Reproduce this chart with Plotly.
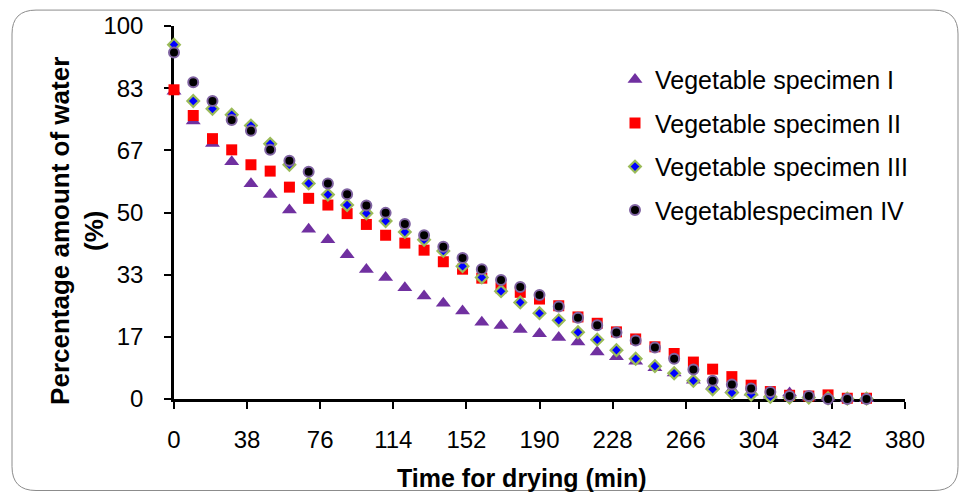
import plotly.graph_objects as go

time_min = list(range(0, 361, 10))

specimen_1 = [82.5, 74.5, 68.5, 63.6, 57.7, 54.8, 50.7, 45.5, 42.7, 38.7, 34.7, 32.6, 29.8,
              27.6, 25.7, 23.6, 20.6, 19.7, 18.6, 17.5, 16.5, 15.3, 12.6, 11.3, 10.1, 8.4,
              7.0, 5.0, 3.5, 2.5, 1.8, 1.0, 1.6, 0.5, 0.5, 0.1, 0.1]
specimen_2 = [82.9, 76.0, 69.8, 66.8, 62.8, 61.1, 56.8, 53.8, 52.0, 49.7, 46.8, 43.9, 41.8,
              39.9, 36.8, 34.8, 32.4, 29.8, 28.6, 26.8, 25.0, 22.0, 20.3, 18.0, 16.1, 14.0,
              12.2, 9.9, 8.0, 6.0, 3.7, 2.0, 1.0, 0.8, 1.1, 0.2, 0.2]
specimen_3 = [95.0, 79.9, 77.8, 76.2, 73.3, 68.4, 62.8, 57.8, 54.8, 52.0, 49.8, 47.7, 44.8,
              42.7, 39.7, 35.6, 32.6, 28.9, 25.9, 23.0, 21.1, 17.9, 15.9, 13.1, 10.8, 8.8,
              6.9, 4.9, 2.6, 1.7, 1.2, 0.6, 0.4, 0.4, 0.2, 0.1, 0.1]
specimen_4 = [92.9, 84.9, 79.9, 74.8, 71.9, 66.8, 63.9, 60.9, 57.8, 54.9, 51.9, 49.9, 46.9,
              43.9, 40.8, 37.8, 34.8, 31.9, 30.0, 27.9, 24.8, 21.8, 19.8, 17.8, 15.7, 13.8,
              10.8, 7.9, 4.9, 3.9, 2.8, 1.9, 0.8, 0.8, 0.0, 0.0, 0.0]

series_names = ["Vegetable specimen I", "Vegetable specimen II",
                "Vegetable specimen III", "Vegetablespecimen IV"]

x_tick_vals = [0, 38, 76, 114, 152, 190, 228, 266, 304, 342, 380]
y_tick_vals = [0, 100 / 6, 200 / 6, 50, 400 / 6, 500 / 6, 100]
y_tick_text = ["0", "17", "33", "50", "67", "83", "100"]

FONT = "Liberation Sans, Arial, sans-serif"

styles = [
    dict(symbol="triangle-up", size=13, color="#7030A0", line=dict(width=0)),
    dict(symbol="square", size=11, color="#FF0000", line=dict(width=0)),
    dict(symbol="diamond", size=9, color="#0000FF", line=dict(width=2.2, color="#9BBB59")),
    dict(symbol="circle", size=10, color="#000000", line=dict(width=2, color="#8064A2")),
]

fig = go.Figure()
for i, (name, vals) in enumerate(zip(series_names, [specimen_1, specimen_2, specimen_3, specimen_4])):
    fig.add_trace(go.Scatter(
        x=time_min, y=vals, name=name, mode="markers",
        marker=styles[i], cliponaxis=False, legendgroup=f"g{i}",
    ))

# plot area in pixels
L, R, T, B = 174, 55, 24, 94
W, H = 960, 493
pw, ph = W - L - R, H - T - B


def px(x):
    return (x - L) / pw


def py(y):
    return (H - B - y) / ph


# rounded border
x0, x1, y0, y1, r = 12, 958, 8, 491, 24
path = (f"M {px(x0 + r)},{py(y0)} L {px(x1 - r)},{py(y0)} "
        f"Q {px(x1)},{py(y0)} {px(x1)},{py(y0 + r)} "
        f"L {px(x1)},{py(y1 - r)} Q {px(x1)},{py(y1)} {px(x1 - r)},{py(y1)} "
        f"L {px(x0 + r)},{py(y1)} Q {px(x0)},{py(y1)} {px(x0)},{py(y1 - r)} "
        f"L {px(x0)},{py(y0 + r)} Q {px(x0)},{py(y0)} {px(x0 + r)},{py(y0)} Z")

fig.update_layout(
    width=W, height=H,
    margin=dict(l=L, r=R, t=T, b=B),
    paper_bgcolor="white", plot_bgcolor="white",
    font=dict(family=FONT, size=24, color="#000000"),
    showlegend=True,
    legend=dict(x=px(615), y=py(55), xanchor="left", yanchor="top",
                font=dict(family=FONT, size=25, color="#000000"),
                bgcolor="rgba(0,0,0,0)", tracegroupgap=8, traceorder="grouped"),
    xaxis=dict(range=[0, 380], tickvals=x_tick_vals, showgrid=False, zeroline=False,
               showline=True, linecolor="#000000", linewidth=2.5,
               ticks="outside", ticklen=7, tickwidth=2, tickcolor="#000000",
               tickfont=dict(family=FONT, size=24), ticklabelstandoff=10,
               layer="below traces"),
    yaxis=dict(range=[0, 100], tickvals=y_tick_vals, ticktext=y_tick_text, showgrid=False,
               zeroline=False, showline=True, linecolor="#000000", linewidth=2.5,
               ticks="outside", ticklen=7, tickwidth=2, tickcolor="#000000",
               tickfont=dict(family=FONT, size=24), ticklabelstandoff=16,
               layer="below traces"),
    shapes=[dict(type="path", xref="paper", yref="paper", path=path,
                 line=dict(color="#8C8C8C", width=1), fillcolor="rgba(0,0,0,0)", layer="below")],
    annotations=[
        dict(text="<b>Time for drying (min)</b>", xref="paper", yref="paper",
             x=px(522), y=py(478), xanchor="center", yanchor="middle", showarrow=False,
             font=dict(family=FONT, size=25)),
        dict(text="<b>Percentage amount of water<br>(%)</b>", xref="paper", yref="paper",
             x=px(77), y=py(230), xanchor="center", yanchor="middle", showarrow=False,
             textangle=-90, align="center", font=dict(family=FONT, size=26)),
    ],
)

fig.write_html("out.html")
